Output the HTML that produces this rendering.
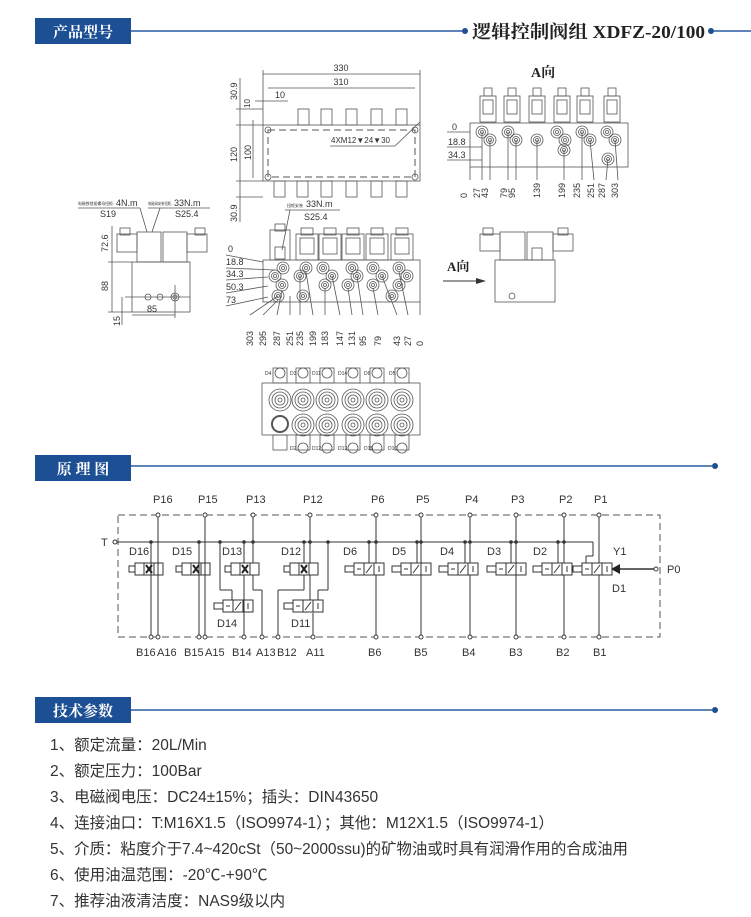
<!DOCTYPE html>
<html><head><meta charset="utf-8"><style>
html,body{margin:0;padding:0;background:#fff;}
svg{display:block;}
.t{font-family:"Liberation Sans","Noto Sans CJK SC",sans-serif;fill:#333;}
.l{stroke:#555;stroke-width:0.8;fill:none;}
.k{stroke:#333;stroke-width:1;fill:none;}
.d{stroke:#555;stroke-width:1;fill:none;stroke-dasharray:7,4;}
</style></head><body>
<svg width="751" height="917" viewBox="0 0 751 917" xmlns="http://www.w3.org/2000/svg">
<defs>
<g id="sol"><rect x="-11" y="6" width="22" height="26" class="l"/><rect x="-7" y="10" width="14" height="16" class="l"/><rect x="-6" y="0" width="12" height="7" class="l"/></g>
<g id="solA"><rect x="-8" y="8" width="16" height="26" class="l"/><rect x="-5" y="12" width="10" height="14" class="l"/><rect x="-4" y="0" width="8" height="8" class="l"/></g>
<g id="port"><circle r="6" class="l"/><circle r="3.5" class="l"/><circle r="1.5" class="l"/></g>
<g id="bport"><circle r="11" class="l"/><circle r="8" class="l"/><circle r="5" class="l"/><circle r="2" class="l"/></g>
<g id="cv"><rect x="0" y="0" width="28" height="12" class="k"/><line x1="9" y1="0" x2="9" y2="12" class="k"/><line x1="19" y1="0" x2="19" y2="12" class="k"/><path d="M11 2 L17 10 M17 2 L11 10" stroke="#222" stroke-width="2"/><rect x="-6" y="3" width="6" height="6" class="k"/></g>
<g id="sv"><rect x="0" y="0" width="30" height="12" class="k"/><line x1="10" y1="0" x2="10" y2="12" class="k"/><line x1="20" y1="0" x2="20" y2="12" class="k"/><path d="M12 10 L18 2 M3 6 L7 6 M25 3 L25 9" class="k"/><rect x="-9" y="3" width="9" height="6" class="k"/></g>
</defs>

<!-- Header 1 -->
<rect x="35" y="18" width="96" height="26" fill="#1d4f94"/>
<text x="83" y="37" text-anchor="middle" font-family="'Noto Serif CJK SC','Noto Sans CJK SC',serif" font-weight="bold" font-size="15" fill="#fff">产品型号</text>
<line x1="131" y1="31" x2="462" y2="31" stroke="#2a5aa0" stroke-width="1.5"/>
<circle cx="465" cy="31" r="3" fill="#1d4f94"/>
<text x="472" y="38" font-family="'Liberation Serif','Noto Serif CJK SC',serif" font-weight="bold" font-size="18" fill="#222" textLength="233" lengthAdjust="spacingAndGlyphs">逻辑控制阀组 XDFZ-20/100</text>
<circle cx="711" cy="31" r="3" fill="#1d4f94"/>
<line x1="714" y1="31" x2="751" y2="31" stroke="#2a5aa0" stroke-width="1.5"/>

<!-- Header 2 -->
<rect x="35" y="455" width="96" height="26" fill="#1d4f94"/>
<text x="83" y="474" text-anchor="middle" font-family="'Noto Serif CJK SC','Noto Sans CJK SC',serif" font-weight="bold" font-size="15" fill="#fff">原 理 图</text>
<line x1="131" y1="466" x2="712" y2="466" stroke="#2a5aa0" stroke-width="1.5"/>
<circle cx="715" cy="466" r="3" fill="#1d4f94"/>

<!-- Header 3 -->
<rect x="35" y="697" width="96" height="26" fill="#1d4f94"/>
<text x="83" y="716" text-anchor="middle" font-family="'Noto Serif CJK SC','Noto Sans CJK SC',serif" font-weight="bold" font-size="15" fill="#fff">技术参数</text>
<line x1="131" y1="710" x2="712" y2="710" stroke="#2a5aa0" stroke-width="1.5"/>
<circle cx="715" cy="710" r="3" fill="#1d4f94"/>

<!-- Spec list -->
<g class="t" font-size="15.5">
<text x="50" y="750">1、额定流量：20L/Min</text>
<text x="50" y="776">2、额定压力：100Bar</text>
<text x="50" y="802">3、电磁阀电压：DC24±15%；插头：DIN43650</text>
<text x="50" y="828">4、连接油口：T:M16X1.5（ISO9974-1）；其他：M12X1.5（ISO9974-1）</text>
<text x="50" y="854" textLength="578" lengthAdjust="spacingAndGlyphs">5、介质：粘度介于7.4~420cSt（50~2000ssu)的矿物油或时具有润滑作用的合成油用</text>
<text x="50" y="880">6、使用油温范围：-20℃-+90℃</text>
<text x="50" y="906">7、推荐油液清洁度：NAS9级以内</text>
</g>

<!-- Top plan view -->
<g>
<line x1="263" y1="70" x2="263" y2="125" class="l"/><line x1="420" y1="70" x2="420" y2="125" class="l"/>
<line x1="263" y1="74" x2="420" y2="74" class="l"/><text x="341" y="71" class="t" font-size="9" text-anchor="middle">330</text>
<line x1="268" y1="88" x2="415" y2="88" class="l"/><text x="341" y="85" class="t" font-size="9" text-anchor="middle">310</text>
<line x1="255" y1="101" x2="288" y2="101" class="l"/><text x="280" y="98" class="t" font-size="9" text-anchor="middle">10</text>
<line x1="240" y1="78" x2="240" y2="222" class="l"/><line x1="253" y1="120" x2="253" y2="178" class="l"/>
<line x1="236" y1="109" x2="263" y2="109" class="l"/><line x1="236" y1="125" x2="263" y2="125" class="l"/><line x1="236" y1="181" x2="263" y2="181" class="l"/><line x1="236" y1="197" x2="263" y2="197" class="l"/>
<text transform="translate(237,100) rotate(-90)" class="t" font-size="9">30.9</text>
<text transform="translate(250,108) rotate(-90)" class="t" font-size="8">10</text>
<text transform="translate(237,162) rotate(-90)" class="t" font-size="9">120</text>
<text transform="translate(251,160) rotate(-90)" class="t" font-size="9">100</text>
<text transform="translate(237,222) rotate(-90)" class="t" font-size="9">30.9</text>
<rect x="263" y="125" width="157" height="56" class="l"/>
<rect x="268" y="130" width="147" height="47" class="d" stroke-width="0.8"/>
<circle cx="268" cy="130" r="3" class="l"/><circle cx="415" cy="130" r="3" class="l"/><circle cx="268" cy="177" r="3" class="l"/><circle cx="415" cy="177" r="3" class="l"/>
<rect x="298" y="109" width="11" height="16" class="l"/><rect x="321" y="109" width="11" height="16" class="l"/><rect x="346" y="109" width="11" height="16" class="l"/><rect x="371" y="109" width="11" height="16" class="l"/><rect x="396" y="109" width="11" height="16" class="l"/>
<rect x="274" y="181" width="11" height="16" class="l"/><rect x="297" y="181" width="11" height="16" class="l"/><rect x="321" y="181" width="11" height="16" class="l"/><rect x="346" y="181" width="11" height="16" class="l"/><rect x="371" y="181" width="11" height="16" class="l"/><rect x="396" y="181" width="11" height="16" class="l"/>
<text x="331" y="143" class="t" font-size="8">4XM12▼24▼30</text>
<line x1="330" y1="146" x2="395" y2="146" class="l"/><line x1="395" y1="146" x2="420" y2="122" class="l"/>
</g>

<!-- A view -->
<g>
<text x="531" y="77" font-family="'Liberation Serif','Noto Serif CJK SC',serif" font-weight="bold" font-size="14" fill="#222">A向</text>
<use href="#solA" x="488" y="88"/><use href="#solA" x="512" y="88"/><use href="#solA" x="537" y="88"/><use href="#solA" x="562" y="88"/><use href="#solA" x="585" y="88"/><use href="#solA" x="612" y="88"/>
<rect x="470" y="123" width="158" height="44" class="l"/>
<use href="#port" x="482" y="132"/><use href="#port" x="508" y="132"/><use href="#port" x="557" y="132"/><use href="#port" x="582" y="132"/><use href="#port" x="607" y="132"/>
<use href="#port" x="490" y="140"/><use href="#port" x="516" y="140"/><use href="#port" x="537" y="140"/><use href="#port" x="565" y="140"/><use href="#port" x="590" y="140"/><use href="#port" x="615" y="140"/>
<use href="#port" x="564" y="150"/><use href="#port" x="608" y="159"/>
<line x1="447" y1="132" x2="470" y2="132" class="l"/><line x1="447" y1="147" x2="482" y2="147" class="l"/><line x1="447" y1="160" x2="482" y2="160" class="l"/>
<text x="452" y="130" class="t" font-size="9">0</text><text x="448" y="145" class="t" font-size="9">18.8</text><text x="448" y="158" class="t" font-size="9">34.3</text>
<g class="l"><line x1="470" y1="167" x2="470" y2="180"/><line x1="482" y1="132" x2="482" y2="180"/><line x1="490" y1="140" x2="490" y2="180"/><line x1="508" y1="132" x2="508" y2="180"/><line x1="516" y1="140" x2="516" y2="180"/><line x1="537" y1="140" x2="537" y2="180"/><line x1="564" y1="150" x2="564" y2="180"/><line x1="582" y1="132" x2="582" y2="180"/><line x1="590" y1="140" x2="594" y2="180"/><line x1="608" y1="159" x2="606" y2="180"/><line x1="615" y1="140" x2="618" y2="180"/></g>
<g class="t" font-size="9">
<text transform="translate(467,198) rotate(-90)">0</text><text transform="translate(480,198) rotate(-90)">27</text><text transform="translate(488,198) rotate(-90)">43</text><text transform="translate(507,198) rotate(-90)">79</text><text transform="translate(515,198) rotate(-90)">95</text><text transform="translate(540,198) rotate(-90)">139</text><text transform="translate(565,198) rotate(-90)">199</text><text transform="translate(580,198) rotate(-90)">235</text><text transform="translate(594,198) rotate(-90)">251</text><text transform="translate(605,198) rotate(-90)">287</text><text transform="translate(618,198) rotate(-90)">303</text>
</g>
</g>

<!-- Side view -->
<g>
<text x="78" y="205" class="t" font-size="4" textLength="36" lengthAdjust="spacingAndGlyphs">电磁铁锁紧螺母扭矩:</text><text x="116" y="206" class="t" font-size="9">4N.m</text>
<line x1="78" y1="208" x2="140" y2="208" class="l"/><text x="100" y="217" class="t" font-size="9">S19</text>
<text x="148" y="205" class="t" font-size="4" textLength="24" lengthAdjust="spacingAndGlyphs">电磁阀安装扭矩:</text><text x="174" y="206" class="t" font-size="9">33N.m</text>
<line x1="148" y1="208" x2="210" y2="208" class="l"/><text x="175" y="217" class="t" font-size="9">S25.4</text>
<line x1="140" y1="208" x2="147" y2="232" class="l"/><line x1="160" y1="208" x2="152" y2="232" class="l"/>
<rect x="117" y="234" width="20" height="18" class="l"/><rect x="120" y="228" width="10" height="7" class="l"/>
<rect x="137" y="232" width="24" height="30" class="l"/><rect x="163" y="232" width="24" height="30" class="l"/>
<rect x="187" y="234" width="20" height="18" class="l"/><rect x="195" y="228" width="10" height="7" class="l"/>
<rect x="132" y="262" width="58" height="50" class="l"/>
<circle cx="148" cy="297" r="3" class="l"/><circle cx="160" cy="297" r="3" class="l"/><circle cx="175" cy="297" r="4" class="l"/><circle cx="175" cy="297" r="2" class="l"/>
<line x1="112" y1="226" x2="112" y2="312" class="l"/><line x1="108" y1="262" x2="132" y2="262" class="l"/><line x1="108" y1="312" x2="132" y2="312" class="l"/>
<text transform="translate(108,252) rotate(-90)" class="t" font-size="9">72.6</text>
<text transform="translate(108,291) rotate(-90)" class="t" font-size="9">88</text>
<line x1="125" y1="297" x2="190" y2="297" class="l"/><line x1="122" y1="297" x2="122" y2="325" class="l"/>
<text transform="translate(120,326) rotate(-90)" class="t" font-size="9">15</text>
<line x1="132" y1="315" x2="175" y2="315" class="l"/><line x1="175" y1="285" x2="175" y2="318" class="l"/>
<text x="147" y="312" class="t" font-size="9">85</text>
</g>

<!-- Front view -->
<g>
<text x="287" y="207" class="t" font-size="4" textLength="16" lengthAdjust="spacingAndGlyphs">扭矩安装</text><text x="306" y="207" class="t" font-size="9">33N.m</text>
<line x1="285" y1="210" x2="340" y2="210" class="l"/><text x="304" y="220" class="t" font-size="9">S25.4</text>
<line x1="290" y1="210" x2="282" y2="250" class="l"/>
<rect x="270" y="230" width="20" height="30" class="l"/><rect x="275" y="247" width="10" height="12" class="l"/><rect x="275" y="224" width="10" height="7" class="l"/>
<use href="#sol" x="307" y="228"/><use href="#sol" x="330" y="228"/><use href="#sol" x="353" y="228"/><use href="#sol" x="377" y="228"/><use href="#sol" x="402" y="228"/>
<rect x="263" y="260" width="157" height="42" class="l"/>
<use href="#port" x="283" y="268"/><use href="#port" x="306" y="268"/><use href="#port" x="323" y="268"/><use href="#port" x="352" y="268"/><use href="#port" x="373" y="268"/><use href="#port" x="399" y="268"/>
<use href="#port" x="275" y="276"/><use href="#port" x="300" y="276"/><use href="#port" x="332" y="276"/><use href="#port" x="357" y="276"/><use href="#port" x="382" y="276"/><use href="#port" x="407" y="276"/>
<use href="#port" x="282" y="285"/><use href="#port" x="325" y="285"/><use href="#port" x="348" y="285"/><use href="#port" x="373" y="285"/><use href="#port" x="399" y="285"/>
<use href="#port" x="278" y="296"/><use href="#port" x="303" y="296"/><use href="#port" x="392" y="296"/>
<g class="t" font-size="9"><text x="228" y="252">0</text><text x="226" y="265">18.8</text><text x="226" y="277">34.3</text><text x="226" y="290">50.3</text><text x="226" y="303">73</text></g>
<g class="l"><line x1="226" y1="255" x2="263" y2="262"/><line x1="226" y1="268" x2="275" y2="270"/><line x1="226" y1="280" x2="268" y2="277"/><line x1="226" y1="293" x2="268" y2="286"/><line x1="226" y1="306" x2="268" y2="297"/>
<line x1="250" y1="315" x2="278" y2="296"/><line x1="263" y1="315" x2="278" y2="300"/><line x1="277" y1="315" x2="282" y2="290"/><line x1="290" y1="315" x2="290" y2="296"/><line x1="300" y1="315" x2="300" y2="276"/><line x1="313" y1="315" x2="306" y2="272"/><line x1="325" y1="315" x2="325" y2="288"/><line x1="340" y1="315" x2="332" y2="276"/><line x1="352" y1="315" x2="348" y2="288"/><line x1="363" y1="315" x2="357" y2="276"/><line x1="378" y1="315" x2="373" y2="288"/><line x1="397" y1="315" x2="382" y2="276"/><line x1="408" y1="315" x2="399" y2="272"/><line x1="420" y1="315" x2="420" y2="302"/></g>
<g class="t" font-size="9">
<text transform="translate(253,346) rotate(-90)">303</text><text transform="translate(266,346) rotate(-90)">295</text><text transform="translate(280,346) rotate(-90)">287</text><text transform="translate(293,346) rotate(-90)">251</text><text transform="translate(303,346) rotate(-90)">235</text><text transform="translate(316,346) rotate(-90)">199</text><text transform="translate(328,346) rotate(-90)">183</text><text transform="translate(343,346) rotate(-90)">147</text><text transform="translate(355,346) rotate(-90)">131</text><text transform="translate(366,346) rotate(-90)">95</text><text transform="translate(381,346) rotate(-90)">79</text><text transform="translate(400,346) rotate(-90)">43</text><text transform="translate(411,346) rotate(-90)">27</text><text transform="translate(423,346) rotate(-90)">0</text>
</g>
</g>

<!-- Right side view -->
<g>
<rect x="480" y="234" width="20" height="17" class="l"/><rect x="483" y="228" width="10" height="7" class="l"/>
<rect x="500" y="232" width="25" height="28" class="l"/><rect x="527" y="232" width="26" height="28" class="l"/>
<rect x="553" y="234" width="20" height="17" class="l"/><rect x="558" y="228" width="10" height="7" class="l"/>
<rect x="532" y="248" width="10" height="12" class="l"/>
<rect x="495" y="260" width="60" height="42" class="l"/>
<circle cx="512" cy="296" r="3" class="l"/>
<text x="447" y="271" font-family="'Liberation Serif','Noto Serif CJK SC',serif" font-weight="bold" font-size="13" fill="#222">A向</text>
<line x1="443" y1="281" x2="478" y2="281" stroke="#333" stroke-width="1"/><path d="M486 281 L476 278 L476 284 Z" fill="#333"/>
</g>

<!-- Bottom view -->
<g>
<rect x="262" y="383" width="158" height="52" class="l"/>
<g class="l">
<rect x="273" y="368" width="14" height="15"/><rect x="296" y="368" width="14" height="15"/><rect x="320" y="368" width="14" height="15"/><rect x="346" y="368" width="14" height="15"/><rect x="370" y="368" width="14" height="15"/><rect x="395" y="368" width="14" height="15"/>
<rect x="273" y="435" width="14" height="15"/><rect x="296" y="435" width="14" height="15"/><rect x="320" y="435" width="14" height="15"/><rect x="346" y="435" width="14" height="15"/><rect x="370" y="435" width="14" height="15"/><rect x="395" y="435" width="14" height="15"/>
<circle cx="303" cy="373" r="5"/><circle cx="327" cy="373" r="5"/><circle cx="353" cy="373" r="5"/><circle cx="377" cy="373" r="5"/><circle cx="402" cy="373" r="5"/><circle cx="280" cy="373" r="5"/>
<circle cx="303" cy="448" r="5"/><circle cx="327" cy="448" r="5"/><circle cx="353" cy="448" r="5"/><circle cx="377" cy="448" r="5"/><circle cx="402" cy="448" r="5"/>
<circle cx="280" cy="424" r="8" stroke-width="2"/>
</g>
<use href="#bport" x="280" y="400"/><use href="#bport" x="303" y="400"/><use href="#bport" x="327" y="400"/><use href="#bport" x="353" y="400"/><use href="#bport" x="377" y="400"/><use href="#bport" x="402" y="400"/>
<use href="#bport" x="303" y="425"/><use href="#bport" x="327" y="425"/><use href="#bport" x="353" y="425"/><use href="#bport" x="377" y="425"/><use href="#bport" x="402" y="425"/>
<g class="t" font-size="5"><text x="265" y="375">D4</text><text x="290" y="375">D3</text><text x="312" y="375">D11</text><text x="338" y="375">D14</text><text x="364" y="375">D6</text><text x="389" y="375">D5</text>
<text x="290" y="450">D2</text><text x="312" y="450">D12</text><text x="338" y="450">D13</text><text x="364" y="450">D15</text><text x="388" y="450">D16</text></g>
</g>

<!-- Schematic -->
<g>
<rect x="118" y="515" width="542" height="122" class="d"/>
<g class="t" font-size="11">
<text x="153" y="503">P16</text><text x="198" y="503">P15</text><text x="246" y="503">P13</text><text x="303" y="503">P12</text><text x="371" y="503">P6</text><text x="416" y="503">P5</text><text x="465" y="503">P4</text><text x="511" y="503">P3</text><text x="559" y="503">P2</text><text x="594" y="503">P1</text>
<text x="101" y="546">T</text><text x="667" y="573">P0</text>
<text x="136" y="656">B16</text><text x="157" y="656">A16</text><text x="184" y="656">B15</text><text x="205" y="656">A15</text><text x="232" y="656">B14</text><text x="256" y="656">A13</text><text x="277" y="656">B12</text><text x="306" y="656">A11</text>
<text x="368" y="656">B6</text><text x="414" y="656">B5</text><text x="462" y="656">B4</text><text x="509" y="656">B3</text><text x="556" y="656">B2</text><text x="593" y="656">B1</text>
<text x="129" y="555">D16</text><text x="172" y="555">D15</text><text x="222" y="555">D13</text><text x="281" y="555">D12</text><text x="343" y="555">D6</text><text x="392" y="555">D5</text><text x="440" y="555">D4</text><text x="487" y="555">D3</text><text x="533" y="555">D2</text><text x="613" y="555">Y1</text><text x="612" y="592">D1</text>
<text x="217" y="627">D14</text><text x="291" y="627">D11</text>
</g>
<line x1="118" y1="542" x2="593" y2="542" class="k"/><line x1="593" y1="542" x2="593" y2="556" class="k"/>
<circle cx="115" cy="542" r="2" fill="#fff" stroke="#333"/>
<g fill="#333"><circle cx="151" cy="542" r="1.8"/><circle cx="199" cy="542" r="1.8"/><circle cx="220" cy="542" r="1.8"/><circle cx="244" cy="542" r="1.8"/><circle cx="253" cy="542" r="1.8"/><circle cx="304" cy="542" r="1.8"/><circle cx="310" cy="542" r="1.8"/><circle cx="328" cy="542" r="1.8"/><circle cx="369" cy="542" r="1.8"/><circle cx="376" cy="542" r="1.8"/><circle cx="417" cy="542" r="1.8"/><circle cx="421" cy="542" r="1.8"/><circle cx="465" cy="542" r="1.8"/><circle cx="470" cy="542" r="1.8"/><circle cx="511" cy="542" r="1.8"/><circle cx="516" cy="542" r="1.8"/><circle cx="558" cy="542" r="1.8"/><circle cx="564" cy="542" r="1.8"/></g>
<g class="k">
<line x1="158" y1="515" x2="158" y2="637"/><line x1="205" y1="515" x2="205" y2="637"/><line x1="253" y1="515" x2="253" y2="563"/><line x1="310" y1="515" x2="310" y2="563"/>
<line x1="376" y1="515" x2="376" y2="563"/><line x1="421" y1="515" x2="421" y2="563"/><line x1="470" y1="515" x2="470" y2="563"/><line x1="516" y1="515" x2="516" y2="563"/><line x1="564" y1="515" x2="564" y2="563"/><line x1="599" y1="515" x2="599" y2="563"/>
<line x1="151" y1="542" x2="151" y2="637"/><line x1="199" y1="542" x2="199" y2="637"/><line x1="244" y1="542" x2="244" y2="563"/><line x1="304" y1="542" x2="304" y2="563"/>
<line x1="369" y1="542" x2="369" y2="563"/><line x1="417" y1="542" x2="417" y2="563"/><line x1="465" y1="542" x2="465" y2="563"/><line x1="511" y1="542" x2="511" y2="563"/><line x1="558" y1="542" x2="558" y2="563"/>
<line x1="376" y1="575" x2="376" y2="637"/><line x1="421" y1="575" x2="421" y2="637"/><line x1="470" y1="575" x2="470" y2="637"/><line x1="516" y1="575" x2="516" y2="637"/><line x1="564" y1="575" x2="564" y2="637"/><line x1="599" y1="575" x2="599" y2="637"/>
<line x1="220" y1="542" x2="220" y2="590"/><line x1="220" y1="590" x2="232" y2="590"/><line x1="232" y1="590" x2="232" y2="600"/>
<line x1="244" y1="575" x2="244" y2="637"/><line x1="253" y1="575" x2="253" y2="590"/><line x1="253" y1="590" x2="262" y2="590"/><line x1="262" y1="590" x2="262" y2="637"/>
<line x1="304" y1="575" x2="304" y2="590"/><line x1="304" y1="590" x2="278" y2="590"/><line x1="278" y1="590" x2="278" y2="637"/>
<line x1="328" y1="542" x2="328" y2="590"/><line x1="328" y1="590" x2="318" y2="590"/><line x1="318" y1="590" x2="318" y2="600"/>
<line x1="310" y1="575" x2="310" y2="600"/><line x1="313" y1="613" x2="313" y2="637"/>
<line x1="593" y1="556" x2="586" y2="556"/><line x1="586" y1="556" x2="586" y2="563"/>
<line x1="620" y1="569" x2="656" y2="569" stroke-width="1.5"/>
</g>
<path d="M611 569 L620 564 L620 574 Z" fill="#222"/>
<g fill="#fff" stroke="#333" stroke-width="0.9">
<circle cx="158" cy="515" r="2"/><circle cx="205" cy="515" r="2"/><circle cx="253" cy="515" r="2"/><circle cx="310" cy="515" r="2"/><circle cx="376" cy="515" r="2"/><circle cx="421" cy="515" r="2"/><circle cx="470" cy="515" r="2"/><circle cx="516" cy="515" r="2"/><circle cx="564" cy="515" r="2"/><circle cx="599" cy="515" r="2"/>
<circle cx="151" cy="637" r="2"/><circle cx="158" cy="637" r="2"/><circle cx="199" cy="637" r="2"/><circle cx="205" cy="637" r="2"/><circle cx="244" cy="637" r="2"/><circle cx="262" cy="637" r="2"/><circle cx="278" cy="637" r="2"/><circle cx="313" cy="637" r="2"/><circle cx="376" cy="637" r="2"/><circle cx="421" cy="637" r="2"/><circle cx="470" cy="637" r="2"/><circle cx="516" cy="637" r="2"/><circle cx="564" cy="637" r="2"/><circle cx="599" cy="637" r="2"/>
<circle cx="656" cy="569" r="2"/>
</g>
<g fill="#fff">
<use href="#cv" x="135" y="563"/><use href="#cv" x="182" y="563"/><use href="#cv" x="231" y="563"/><use href="#cv" x="290" y="563"/>
<use href="#sv" x="223" y="600"/><use href="#sv" x="293" y="600"/>
<use href="#sv" x="354" y="563"/><use href="#sv" x="401" y="563"/><use href="#sv" x="448" y="563"/><use href="#sv" x="496" y="563"/><use href="#sv" x="542" y="563"/><use href="#sv" x="582" y="563"/>
</g>
</g>
</svg>
</body></html>
